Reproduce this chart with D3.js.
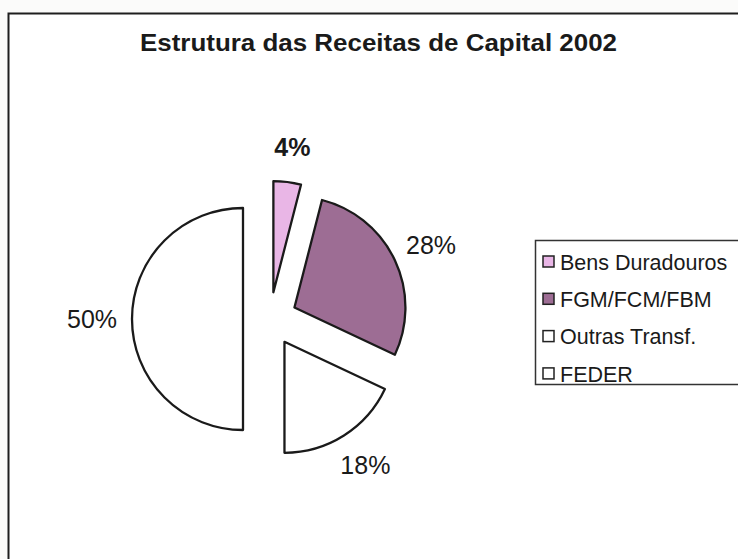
<!DOCTYPE html>
<html>
<head>
<meta charset="utf-8">
<script src="https://cdn.jsdelivr.net/npm/d3@7"></script>
<style>
  body { margin: 0; background: #fbfbfa; }
  svg { display: block; font-family: "Liberation Sans", Arial, sans-serif; }
</style>
</head>
<body>
<div id="chart"></div>
<script>
// data
const categories = ["Bens Duradouros", "FGM/FCM/FBM", "Outras Transf.", "FEDER"]
const values = [4, 28, 18, 50]
const labels = ["4%", "28%", "18%", "50%"]
const colors = ["#e9b6e6", "#9d6d94", "#ffffff", "#ffffff"]

const width = 738, height = 559

let svg = d3.select("#chart")
    .append("svg")
    .attr("width", width)
    .attr("height", height)

//outer frame (cut off at right and bottom like the scan)
svg.append("rect")
    .attr("x", 8.5)
    .attr("y", 13.5)
    .attr("width", 760)
    .attr("height", 580)
    .style("fill", "#ffffff")
    .style("stroke", "#1e1e1e")
    .style("stroke-width", 2)

//title
svg.append("text")
    .attr("x", 140)
    .attr("y", 51)
    .attr("textLength", 477)
    .attr("lengthAdjust", "spacingAndGlyphs")
    .style("font-size", "24px")
    .style("font-weight", "bold")
    .style("fill", "#1a1a1a")
    .text("Estrutura das Receitas de Capital 2002")

//pie
const cx = 270, cy = 319, radius = 111, explode = 27, labelRadius = 170

const pie = d3.pie().sort(null).value(d => d)
const arcs = pie(values)
const arc = d3.arc().innerRadius(0).outerRadius(radius)
const labelArc = d3.arc().innerRadius(labelRadius).outerRadius(labelRadius)

let g = svg.append("g").attr("transform", `translate(${cx},${cy})`)

g.selectAll(".slice")
    .data(arcs)
    .enter()
    .append("path")
    .attr("class", "slice")
    .attr("transform", d => {
        let mid = (d.startAngle + d.endAngle) / 2
        return `translate(${Math.sin(mid) * explode},${-Math.cos(mid) * explode})`
    })
    .attr("d", arc)
    .style("fill", (d, i) => colors[i])
    .style("stroke", "#1a1a1a")
    .style("stroke-width", 2.3)
    .style("stroke-linejoin", "round")

//percent labels, pushed sideways a little like Excel does
g.selectAll(".pct")
    .data(arcs)
    .enter()
    .append("text")
    .attr("class", "pct")
    .attr("transform", d => {
        let [x, y] = labelArc.centroid(d)
        let mid = (d.startAngle + d.endAngle) / 2
        return `translate(${x + Math.sin(mid) * 8},${y - Math.cos(mid) * 3})`
    })
    .attr("text-anchor", "middle")
    .attr("dy", "0.36em")
    .style("font-size", "25px")
    .style("font-weight", (d, i) => i === 0 ? "bold" : "normal")
    .style("fill", "#1a1a1a")
    .text((d, i) => labels[i])

//legend
const legendX = 535, legendY = 240, rowStart = 262, rowStep = 37.3

svg.append("rect")
    .attr("x", legendX + 0.5)
    .attr("y", legendY + 0.5)
    .attr("width", 220)
    .attr("height", 144)
    .style("fill", "#ffffff")
    .style("stroke", "#333")
    .style("stroke-width", 1.5)

let items = svg.selectAll(".legend-item")
    .data(categories)
    .enter()
    .append("g")
    .attr("class", "legend-item")
    .attr("transform", (d, i) => `translate(${legendX + 8},${rowStart + i * rowStep})`)

items.append("rect")
    .attr("x", 0)
    .attr("y", -6)
    .attr("width", 11)
    .attr("height", 11)
    .style("fill", (d, i) => colors[i])
    .style("stroke", "#222")
    .style("stroke-width", 1.5)

items.append("text")
    .attr("x", 17)
    .attr("dy", "0.36em")
    .style("font-size", "21.5px")
    .style("fill", "#1a1a1a")
    .text(d => d)
</script>
</body>
</html>
